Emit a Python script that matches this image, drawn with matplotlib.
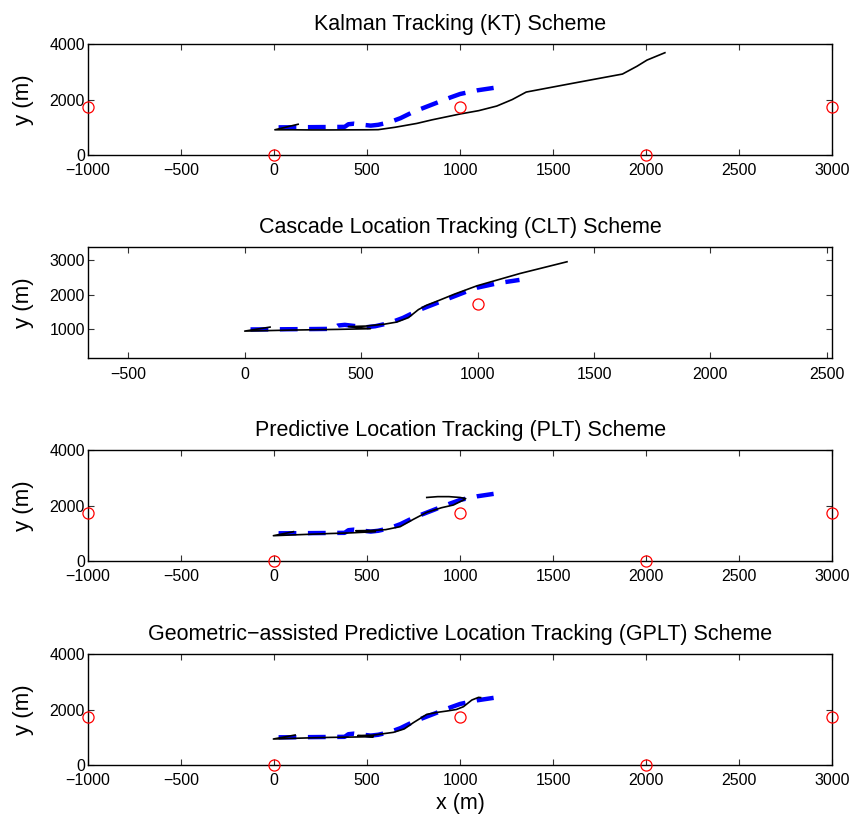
import numpy as np
import matplotlib
matplotlib.use("Agg")
import matplotlib.pyplot as plt

plt.rcParams["font.family"] = ["Liberation Sans", "DejaVu Sans"]

# base station positions (red circles)
bs_x = [-1000, 0, 1000, 2000, 3000]
bs_y = [1732, 0, 1732, 0, 1732]

# true trajectory (blue dashed), shared by all panels
true_x = [25, 100, 200, 300, 380, 400, 430, 480, 520, 560, 620, 680, 750, 850, 950, 1000, 1090, 1180]
true_y = [998, 1000, 1005, 1010, 1015, 1110, 1130, 1090, 1060, 1090, 1180, 1330, 1560, 1820, 2080, 2200, 2330, 2420]

# estimated trajectories (black solid)
kt_x = [130, 5, 100, 200, 300, 400, 500, 560, 650, 768, 850, 1000, 1100, 1197, 1280, 1355, 1600, 1872, 1950, 2004, 2100]
kt_y = [1110, 910, 910, 905, 905, 908, 910, 915, 1000, 1140, 1270, 1480, 1600, 1766, 2000, 2270, 2580, 2919, 3200, 3423, 3688]

clt_x = [109, 0, 100, 200, 300, 400, 540, 445, 520, 600, 653, 703, 746, 780, 825, 900, 997, 1183, 1384]
clt_y = [1066, 951, 965, 980, 990, 1000, 1020, 1080, 1095, 1150, 1210, 1337, 1568, 1690, 1807, 2010, 2250, 2606, 2941]

plt_x = [105, -3, 100, 200, 300, 400, 545, 440, 520, 600, 678, 749, 821, 900, 964, 1018, 1030, 1000, 940, 880, 821]
plt_y = [1057, 912, 940, 965, 990, 1010, 1057, 1090, 1100, 1130, 1237, 1502, 1754, 1920, 2018, 2198, 2250, 2290, 2320, 2320, 2290]

gplt_x = [114, -3, 100, 200, 300, 400, 534, 450, 530, 642, 700, 749, 821, 880, 929, 980, 1018, 1063, 1099, 1110]
gplt_y = [1081, 937, 960, 980, 995, 1005, 1021, 1060, 1075, 1177, 1300, 1526, 1826, 1900, 1946, 2000, 2102, 2342, 2438, 2430]

titles = ["Kalman Tracking (KT) Scheme",
          "Cascade Location Tracking (CLT) Scheme",
          "Predictive Location Tracking (PLT) Scheme",
          "Geometric\u2212assisted Predictive Location Tracking (GPLT) Scheme"]
est = [(kt_x, kt_y), (clt_x, clt_y), (plt_x, plt_y), (gplt_x, gplt_y)]

xlims = [(-1000, 3000), (-674, 2524), (-1000, 3000), (-1000, 3000)]
ylims = [(0, 4000), (172, 3358), (0, 4000), (0, 4000)]
xticks = [np.arange(-1000, 3001, 500), np.arange(-500, 2501, 500),
          np.arange(-1000, 3001, 500), np.arange(-1000, 3001, 500)]
yticks = [[0, 2000, 4000], [1000, 2000, 3000], [0, 2000, 4000], [0, 2000, 4000]]

fig = plt.figure(figsize=(8.56, 8.16), dpi=100)
left, width, height = 0.1025, 0.870, 0.136
bottoms = [0.810, 0.561, 0.3125, 0.0625]

bx = np.array(bs_x)
by = np.array(bs_y)

for i in range(4):
    ax = fig.add_axes([left, bottoms[i], width, height])
    ax.plot(true_x, true_y, color="blue", lw=3.2, linestyle=(0, (4.0, 2.6)), zorder=2)
    ax.plot(est[i][0], est[i][1], color="black", lw=1.2, zorder=3)
    # only the stations inside the limits are shown, drawn whole on the box edge
    inside = ((bx >= xlims[i][0]) & (bx <= xlims[i][1]) &
              (by >= ylims[i][0]) & (by <= ylims[i][1]))
    ax.plot(bx[inside], by[inside], "o", ms=8, mfc="none", mec="red", mew=0.9,
            zorder=4, clip_on=False)
    ax.set_xlim(*xlims[i])
    ax.set_ylim(*ylims[i])
    ax.set_xticks(xticks[i])
    ax.set_yticks(yticks[i])
    ax.tick_params(direction="in", length=4, width=0.8, top=True, right=True,
                   labelsize=11.5, color="#333333")
    ax.tick_params(axis="x", pad=6)
    ax.tick_params(axis="y", pad=2)
    for s in ax.spines.values():
        s.set_linewidth(1.0)
    ax.set_title(titles[i], fontsize=15.5, pad=10)
    ax.set_ylabel("y (m)", fontsize=16)
    ax.yaxis.set_label_coords(-0.072, 0.5)
    if i == 3:
        ax.set_xlabel("x (m)", fontsize=15.5, labelpad=3)

fig.savefig("out.png", dpi=100)
